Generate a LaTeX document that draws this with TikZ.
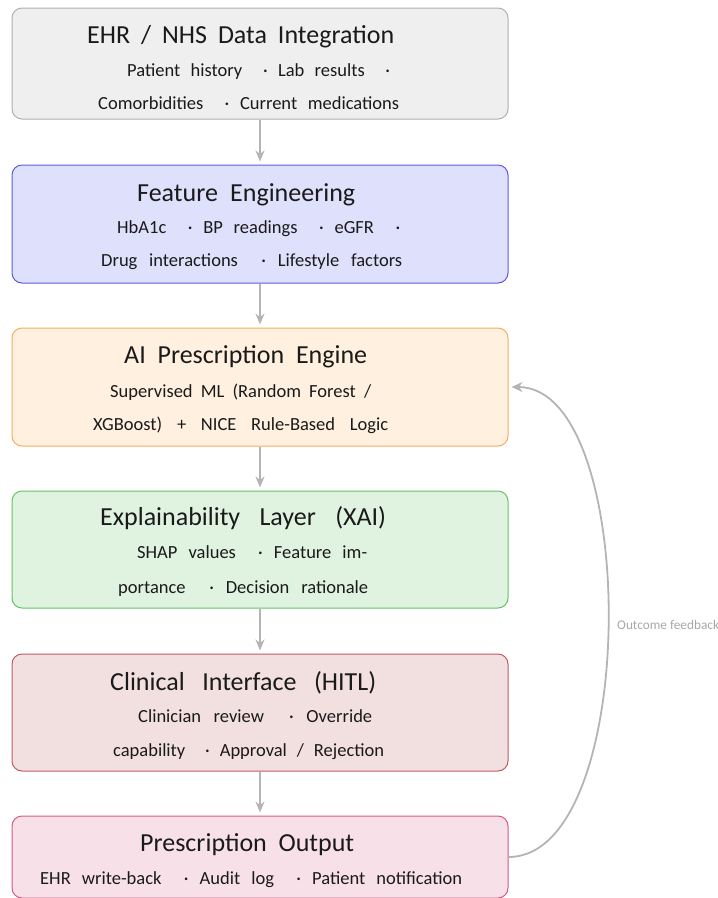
\documentclass[tikz,border=0pt]{standalone}
\usepackage{fontspec}
\setmainfont{Carlito}
\usetikzlibrary{arrows.meta}

\definecolor{ink}{HTML}{1A1A1A}
\definecolor{link}{HTML}{B4B4B4}
\definecolor{note}{HTML}{A8A8A8}
\definecolor{fillA}{HTML}{EFEFEF}\definecolor{lineA}{HTML}{B0B0B0}
\definecolor{fillB}{HTML}{DFE0FB}\definecolor{lineB}{HTML}{5A5AE6}
\definecolor{fillC}{HTML}{FFF0E0}\definecolor{lineC}{HTML}{F5AE5C}
\definecolor{fillD}{HTML}{E0F2E0}\definecolor{lineD}{HTML}{66C266}
\definecolor{fillE}{HTML}{F2E0E0}\definecolor{lineE}{HTML}{C05A66}
\definecolor{fillF}{HTML}{F8E0E8}\definecolor{lineF}{HTML}{D65A82}

\newcommand\spread[2]{\makebox[#1pt][s]{#2}}

\begin{document}
\begin{tikzpicture}[x=1pt,y=-1pt,
  box/.style={draw, rounded corners=10pt, line width=1pt,
    minimum width=496pt, inner sep=0pt},
  ttl/.style={font=\fontsize{26}{31}\selectfont, text=ink, inner sep=0pt, anchor=base west},
  txt/.style={font=\fontsize{18.5}{22}\selectfont, text=ink, inner sep=0pt, anchor=base west},
  flow/.style={draw=link, line width=2pt, -{Stealth[length=11pt,width=9pt]}, shorten >=3pt},
  fb/.style={draw=link, line width=1.8pt, -{Stealth[length=11pt,width=10pt]}, shorten >=3pt}]

\useasboundingbox (0,0) rectangle (718,898);
\clip (0,0) rectangle (718,898);

% stage boxes
\node[box, fill=fillA, draw=lineA, minimum height=111pt] (b1) at (260,63.5) {};
\node[box, fill=fillB, draw=lineB, minimum height=118pt] (b2) at (260,224) {};
\node[box, fill=fillC, draw=lineC, minimum height=118pt] (b3) at (260,387) {};
\node[box, fill=fillD, draw=lineD, minimum height=117pt] (b4) at (260,549.5) {};
\node[box, fill=fillE, draw=lineE, minimum height=117pt] (b5) at (260,712.5) {};
\node[box, fill=fillF, draw=lineF, minimum height=82pt] (b6) at (260,857) {};

% titles and details
\node[ttl] (t1) at (87,43.5) {\spread{307}{EHR / NHS Data Integration}};
\node[txt] (d1a) at (127,76.5) {\spread{263}{Patient history\ \ · Lab results\ \ ·}};
\node[txt] (d1b) at (98,109.5) {\spread{301}{Comorbidities\ \ · Current medications}};

\node[ttl] (t2) at (137,201.5) {\spread{218}{Feature Engineering}};
\node[txt] (d2a) at (117,233.5) {\spread{283}{HbA1c\ \ · BP readings\ \ · eGFR\ \ ·}};
\node[txt] (d2b) at (101,266.5) {\spread{301}{Drug interactions\ \ · Lifestyle factors}};

\node[ttl] (t3) at (124,363.5) {\spread{243}{AI Prescription Engine}};
\node[txt] (d3a) at (110,397.5) {\spread{261}{Supervised ML (Random Forest /}};
\node[txt] (d3b) at (93,430.5) {\spread{295}{XGBoost) + NICE Rule-Based Logic}};

\node[ttl] (t4) at (100,525.5) {\spread{286}{Explainability Layer (XAI)}};
\node[txt] (d4a) at (137,558.5) {\spread{230}{SHAP values\ \ · Feature im-}};
\node[txt] (d4b) at (118,593.5) {\spread{250}{portance\ \ · Decision rationale}};

\node[ttl] (t5) at (110,690.5) {\spread{266}{Clinical Interface (HITL)}};
\node[txt] (d5a) at (138,722.5) {\spread{234}{Clinician review\ \ · Override}};
\node[txt] (d5b) at (113,756.5) {\spread{271}{capability\ \ · Approval / Rejection}};

\node[ttl] (t6) at (140,851.5) {\spread{214}{Prescription Output}};
\node[txt] (d6a) at (40,884.5) {\spread{422}{EHR write-back\ \ · Audit log\ \ · Patient notification}};

% pipeline connectors
\draw[flow] (b1.south) -- (b2.north);
\draw[flow] (b2.south) -- (b3.north);
\draw[flow] (b3.south) -- (b4.north);
\draw[flow] (b4.south) -- (b5.north);
\draw[flow] (b5.south) -- (b6.north);

% feedback loop
\draw[fb] (b6.east) .. controls +(132,0) and +(132,0) .. (b3.east);
\node[font=\fontsize{13.3}{15}\selectfont, text=note, anchor=west, inner sep=0pt] (fbl) at (617,625) {Outcome feedback};
\end{tikzpicture}
\end{document}
